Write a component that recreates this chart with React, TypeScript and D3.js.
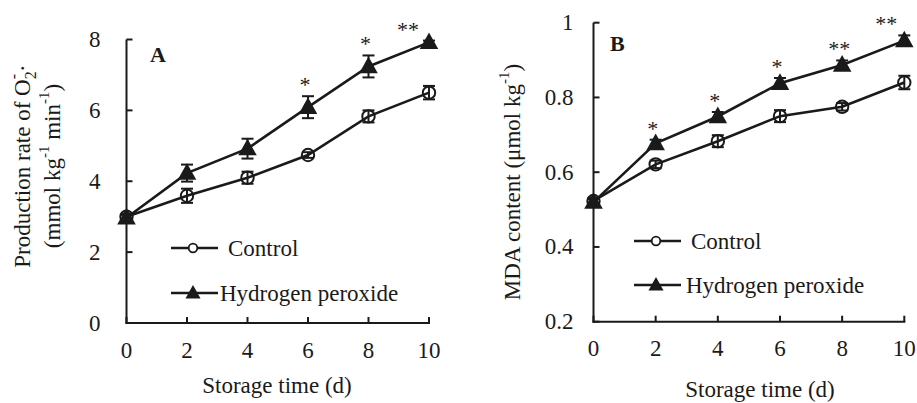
import React from "react";
import * as d3 from "d3";

const days = [0, 2, 4, 6, 8, 10];

const aControl = [3.0, 3.59, 4.1, 4.74, 5.83, 6.5];
const aControlErr = [0.08, 0.2, 0.17, 0.08, 0.17, 0.19];
const aH2O2 = [2.97, 4.23, 4.92, 6.09, 7.24, 7.92];
const aH2O2Err = [0.08, 0.24, 0.28, 0.31, 0.31, 0.05];
const aSig = ["", "", "", "*", "*", "**"];
const aYTicks = [0, 2, 4, 6, 8];

const bControl = [0.523, 0.621, 0.683, 0.75, 0.775, 0.84];
const bControlErr = [0.008, 0.01, 0.016, 0.016, 0.01, 0.018];
const bH2O2 = [0.52, 0.677, 0.749, 0.838, 0.887, 0.952];
const bH2O2Err = [0.008, 0.01, 0.012, 0.014, 0.012, 0.014];
const bSig = ["", "*", "*", "*", "**", "**"];
const bYTicks = [0.2, 0.4, 0.6, 0.8, 1];

const xTicks = [0, 2, 4, 6, 8, 10];

const FONT = "'Liberation Serif', 'Times New Roman', serif";
const FS = 23;

function Panel(props: any) {
  const {
    x0, x1, yTop, yBot, yDomain, yTicks, yFmt, yLabelGap, control, controlErr, h2o2, h2o2Err, sig,
    letter, letterPos, titleLines, titleX, titleY, xTitleX, xTitleY, legend, lastStarDx,
  } = props;
  const x = d3.scaleLinear().domain([0, 10]).range([x0, x1]);
  const y = d3.scaleLinear().domain(yDomain).range([yBot, yTop]);
  const line = d3.line<number>().x((_, i) => x(days[i])).y((v) => y(v));
  const stroke = "#1a1a1a";
  const tri = (cx: number, cy: number, s: number) =>
    `M${cx},${cy - s * 0.62} L${cx + s * 0.58},${cy + s * 0.42} L${cx - s * 0.58},${cy + s * 0.42} Z`;
  const errBars = (vals: number[], errs: number[]) =>
    vals.map((v, i) => {
      const cx = x(days[i]);
      const t = y(v + errs[i]);
      const b = y(v - errs[i]);
      return (
        <g key={i} stroke={stroke} strokeWidth={2}>
          <line x1={cx} x2={cx} y1={t} y2={b} />
          <line x1={cx - 6} x2={cx + 6} y1={t} y2={t} />
          <line x1={cx - 6} x2={cx + 6} y1={b} y2={b} />
        </g>
      );
    });
  return (
    <g fontFamily={FONT} fill="#1a1a1a">
      <line x1={x0} x2={x0} y1={yTop} y2={yBot + 1} stroke={stroke} strokeWidth={2} />
      <line x1={x0 - 1} x2={x1 + 1} y1={yBot} y2={yBot} stroke={stroke} strokeWidth={2} />
      {yTicks.map((t: number) => (
        <g key={t}>
          <line x1={x0} x2={x0 + 6} y1={y(t)} y2={y(t)} stroke={stroke} strokeWidth={2} />
          <text x={x0 - yLabelGap} y={y(t)} textAnchor="end" dominantBaseline="central" fontSize={FS}>
            {yFmt(t)}
          </text>
        </g>
      ))}
      {xTicks.map((t) => (
        <g key={t}>
          <line x1={x(t)} x2={x(t)} y1={yBot} y2={yBot - 6} stroke={stroke} strokeWidth={2} />
          <text x={x(t)} y={yBot + 27} textAnchor="middle" dominantBaseline="central" fontSize={FS}>
            {t}
          </text>
        </g>
      ))}
      <text x={xTitleX} y={xTitleY} textAnchor="middle" dominantBaseline="central" fontSize={FS}>
        Storage time (d)
      </text>
      {titleLines.map((ln: any, i: number) => (
        <text
          key={i}
          transform={`translate(${titleX[i]},${titleY}) rotate(-90)`}
          textAnchor="middle"
          dominantBaseline="central"
          fontSize={FS}
        >
          {ln}
        </text>
      ))}
      <text x={letterPos[0]} y={letterPos[1]} fontWeight="bold" fontSize={22} dominantBaseline="central">
        {letter}
      </text>
      {errBars(control, controlErr)}
      {errBars(h2o2, h2o2Err)}
      <path d={line(control) || ""} fill="none" stroke={stroke} strokeWidth={2.6} />
      <path d={line(h2o2) || ""} fill="none" stroke={stroke} strokeWidth={2.6} />
      {control.map((v: number, i: number) => (
        <circle key={i} cx={x(days[i])} cy={y(v)} r={6.2} fill="none" stroke={stroke} strokeWidth={2} />
      ))}
      {h2o2.map((v: number, i: number) => (
        <path key={i} d={tri(x(days[i]), y(v), 16)} fill={stroke} />
      ))}
      {sig.map((s: string, i: number) =>
        s ? (
          <text
            key={i}
            x={x(days[i]) + (i === sig.length - 1 ? lastStarDx : -3)}
            y={y(h2o2[i] + h2o2Err[i]) - 4}
            textAnchor="middle"
            fontSize={22}
          >
            {s}
          </text>
        ) : null
      )}
      <g>
        <line x1={legend.x} x2={legend.x + 47} y1={legend.y1} y2={legend.y1} stroke={stroke} strokeWidth={2.6} />
        <circle cx={legend.x + 22} cy={legend.y1} r={4.3} fill="white" stroke={stroke} strokeWidth={1.8} />
        <text x={legend.t1} y={legend.y1} dominantBaseline="central" fontSize={FS}>Control</text>
        <line x1={legend.x} x2={legend.x + 47} y1={legend.y2} y2={legend.y2} stroke={stroke} strokeWidth={2.6} />
        <path d={tri(legend.x + 22, legend.y2, 13)} fill={stroke} />
        <text x={legend.t2} y={legend.y2} dominantBaseline="central" fontSize={FS}>Hydrogen peroxide</text>
      </g>
    </g>
  );
}

export default function App() {
  const sup = (s: string) => (
    <tspan baselineShift="super" fontSize={15}>{s}</tspan>
  );
  const titleA = [
    <>
      Production rate of O
      <tspan baselineShift="sub" fontSize={16}>2</tspan>
      <tspan dx={-8} baselineShift="super" fontSize={16}>-</tspan>
      <tspan dx={2}>·</tspan>
    </>,
    <>
      (mmol kg{sup("-1")} min{sup("-1")})
    </>,
  ];
  const titleB = [
    <>
      MDA content (μmol kg{sup("-1")})
    </>,
  ];
  return (
    <svg width={917} height={403} style={{ position: "absolute", left: 0, top: 0, background: "white" }}>
      <rect width={917} height={403} fill="white" />
      <Panel
        x0={126.5}
        x1={429}
        yTop={39.5}
        yBot={323}
        yDomain={[0, 8]}
        yTicks={aYTicks}
        yFmt={(t: number) => String(t)}
        yLabelGap={26}
        control={aControl}
        controlErr={aControlErr}
        h2o2={aH2O2}
        h2o2Err={aH2O2Err}
        sig={aSig}
        letter="A"
        letterPos={[150, 54]}
        titleLines={titleA}
        titleX={[22, 52]}
        titleY={166}
        xTitleX={277}
        xTitleY={385}
        legend={{ x: 171, y1: 248, y2: 293, t1: 228, t2: 220 }}
        lastStarDx={-21}
      />
      <Panel
        x0={593.5}
        x1={904.3}
        yTop={22.7}
        yBot={321.7}
        yDomain={[0.2, 1]}
        yTicks={bYTicks}
        yFmt={(t: number) => (t === 1 ? "1" : String(t))}
        yLabelGap={20}
        control={bControl}
        controlErr={bControlErr}
        h2o2={bH2O2}
        h2o2Err={bH2O2Err}
        sig={bSig}
        letter="B"
        letterPos={[610, 43]}
        titleLines={titleB}
        titleX={[512]}
        titleY={182}
        xTitleX={760}
        xTitleY={389}
        legend={{ x: 634, y1: 241, y2: 285, t1: 691, t2: 686 }}
        lastStarDx={-18}
      />
    </svg>
  );
}
